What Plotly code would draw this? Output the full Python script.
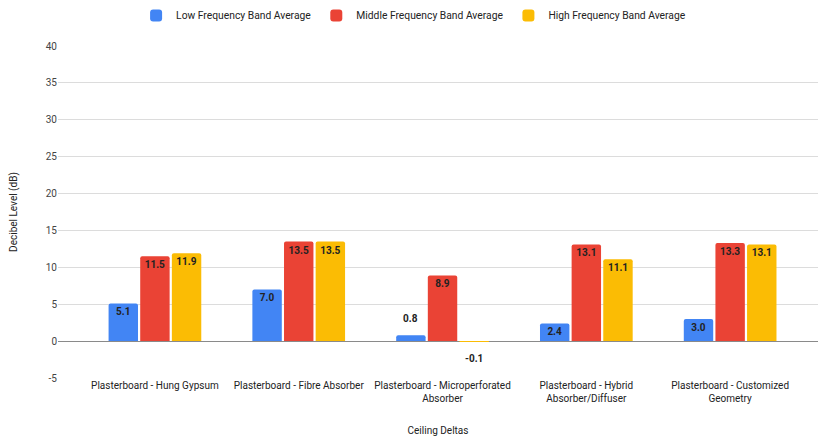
import plotly.graph_objects as go

categories = [
    "Plasterboard - Hung Gypsum",
    "Plasterboard - Fibre Absorber",
    "Plasterboard - Microperforated<br>Absorber",
    "Plasterboard - Hybrid<br>Absorber/Diffuser",
    "Plasterboard - Customized<br>Geometry",
]
low_band = [5.1, 7.0, 0.8, 2.4, 3.0]
mid_band = [11.5, 13.5, 8.9, 13.1, 13.3]
high_band = [11.9, 13.5, -0.1, 11.1, 13.1]

series = [
    ("Low Frequency Band Average", low_band, "#4285F4"),
    ("Middle Frequency Band Average", mid_band, "#EA4335"),
    ("High Frequency Band Average", high_band, "#FBBC04"),
]
y_ticks = [-5, 0, 5, 10, 15, 20, 25, 30, 35, 40]
y_tick_text = [str(t) for t in y_ticks]

FONT = "Roboto, Arial, sans-serif"
BARGAP = 0.34
SMALL = 2.0  # bars shorter than this get their label outside

fig = go.Figure()
annotations = []
x_idx = list(range(len(categories)))
for s_i, (name, vals, color) in enumerate(series):
    inside_text = [f"{v:.1f}" if abs(v) >= SMALL else "" for v in vals]
    fig.add_trace(go.Bar(
        name=name,
        x=x_idx,
        y=vals,
        marker=dict(color=color, line=dict(width=0)),
        text=inside_text,
        textposition="inside",
        insidetextanchor="end",
        constraintext="none",
        textfont=dict(family=FONT, size=10, color="#222222", weight="bold"),
        hoverinfo="skip",
    ))
    # labels for short bars sit just beyond the bar end
    slot = (1 - BARGAP) / len(series)
    for c_i, v in enumerate(vals):
        if abs(v) < SMALL:
            annotations.append(dict(
                x=c_i + (s_i - 1) * slot,
                y=v,
                xref="x", yref="y",
                text=f"{v:.1f}",
                showarrow=False,
                yanchor="bottom" if v >= 0 else "top",
                yshift=9 if v >= 0 else -9,
                font=dict(family=FONT, size=10, color="#222222", weight="bold"),
            ))

fig.update_layout(
    width=819, height=440,
    margin=dict(l=58, r=1, t=46, b=62),
    paper_bgcolor="white", plot_bgcolor="white",
    barmode="group", bargap=BARGAP, bargroupgap=0.07,
    barcornerradius=2,
    font=dict(family=FONT, size=10, color="#444444"),
    legend=dict(
        orientation="h", xref="container", yref="container",
        x=0.505, xanchor="center", y=0.965, yanchor="middle",
        font=dict(family=FONT, size=10.3, color="#222222"),
        itemsizing="constant", itemwidth=30,
    ),
    annotations=annotations,
    showlegend=True,
)
fig.update_xaxes(
    tickmode="array", tickvals=x_idx, ticktext=categories,
    range=[-0.674, 4.611],
    showgrid=False, zeroline=False, showline=False, ticks="",
    tickfont=dict(family=FONT, size=10, color="#222222"),
    title=dict(text="Ceiling Deltas", font=dict(family=FONT, size=10, color="#222222"), standoff=23),
    automargin=False,
)
fig.update_yaxes(
    range=[-5, 40], tickmode="array", tickvals=y_ticks, ticktext=y_tick_text,
    showgrid=True, gridcolor="#dcdcdc", gridwidth=1,
    zeroline=True, zerolinecolor="#8a8a8a", zerolinewidth=1,
    showline=False, ticks="",
    tickfont=dict(family=FONT, size=10, color="#444444"),
    title=dict(text="Decibel Level (dB)", font=dict(family=FONT, size=10, color="#222222"), standoff=26),
    automargin=False,
)

fig.write_html("out.html")
